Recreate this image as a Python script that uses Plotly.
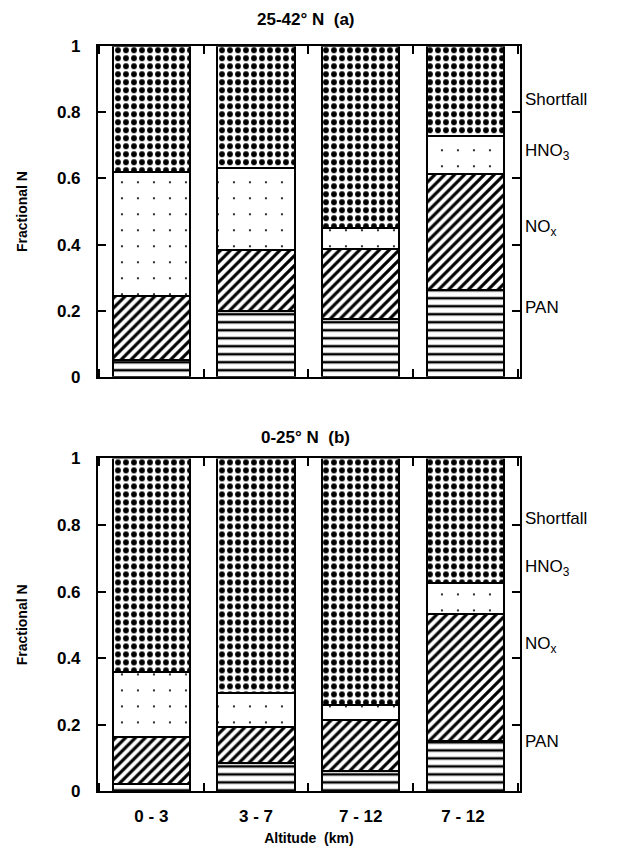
import plotly.graph_objects as go

altitudes = ["0 - 3", "3 - 7", "7 - 12", "7 - 12 "]
species = ["PAN", "NO<sub>x</sub>", "HNO<sub>3</sub>", "Shortfall"]

# panel (a) 25-42 N : fractional contributions (stacked)
a_pan = [0.05, 0.20, 0.174, 0.263]
a_nox = [0.195, 0.183, 0.212, 0.351]
a_hno3 = [0.375, 0.249, 0.065, 0.116]
a_short = [0.38, 0.368, 0.549, 0.27]

# panel (b) 0-25 N
b_pan = [0.023, 0.086, 0.061, 0.151]
b_nox = [0.14, 0.107, 0.152, 0.381]
b_hno3 = [0.195, 0.102, 0.045, 0.094]
b_short = [0.642, 0.705, 0.742, 0.374]

# right-side label positions (fraction of axis)
label_pos_a = [0.84, 0.68, 0.45, 0.21]
label_pos_b = [0.82, 0.67, 0.44, 0.15]
label_order = ["Shortfall", "HNO<sub>3</sub>", "NO<sub>x</sub>", "PAN"]

FONT = "Liberation Sans"

patterns = [
    dict(shape="-", fgcolor="black", bgcolor="white", size=8, solidity=0.32, fgopacity=1),
    dict(shape="/", fgcolor="black", bgcolor="white", size=7, solidity=0.45, fgopacity=1),
    dict(shape=".", fgcolor="black", bgcolor="white", size=16, solidity=0.015, fgopacity=1),
    dict(shape=".", fgcolor="black", bgcolor="white", size=8, solidity=0.42, fgopacity=1),
]

fig = go.Figure()
for panel, series in (("a", [a_pan, a_nox, a_hno3, a_short]), ("b", [b_pan, b_nox, b_hno3, b_short])):
    xa = "x" if panel == "a" else "x2"
    ya = "y" if panel == "a" else "y2"
    for name, vals, pat in zip(species, series, patterns):
        fig.add_trace(go.Bar(
            x=altitudes, y=vals, name=name, xaxis=xa, yaxis=ya,
            marker=dict(color="white", pattern=pat, line=dict(color="black", width=2)),
            showlegend=False,
        ))

xcommon = dict(
    type="category", range=[-0.51, 3.52], tickson="boundaries", ticks="inside",
    ticklen=8, tickwidth=2, tickcolor="black", showline=True, linecolor="black",
    linewidth=2, mirror="ticks", showgrid=False, zeroline=False,
)
ycommon = dict(
    range=[0, 1], tickvals=[0, 0.2, 0.4, 0.6, 0.8, 1], ticktext=["0", "0.2", "0.4", "0.6", "0.8", "1"],
    ticks="inside", ticklen=8, tickwidth=2, tickcolor="black",
    showline=True, linecolor="black", linewidth=2, mirror="ticks",
    showgrid=False, zeroline=False, ticklabelstandoff=12,
    tickfont=dict(family=FONT, size=17, color="black", weight="bold"),
    title=dict(text="Fractional N", font=dict(family=FONT, size=14, color="black", weight="bold"), standoff=26),
)

fig.update_layout(
    width=624, height=854,
    margin=dict(l=0, r=0, t=0, b=0),
    paper_bgcolor="white", plot_bgcolor="white",
    barmode="stack", bargap=0.26,
    xaxis=dict(xcommon, domain=[0.157, 0.833], anchor="y", showticklabels=False),
    yaxis=dict(ycommon, domain=[0.5595, 0.9554], anchor="x"),
    xaxis2=dict(xcommon, domain=[0.157, 0.833], anchor="y2", showticklabels=True,
                ticklabelstandoff=8,
                tickfont=dict(family=FONT, size=17, color="black", weight="bold"),
                title=dict(text="Altitude  (km)", font=dict(family=FONT, size=14, color="black", weight="bold"), standoff=8)),
    yaxis2=dict(ycommon, domain=[0.0631, 0.4618], anchor="x2"),
)

anns = [
    dict(text="25-42° N  (a)", xref="paper", yref="paper", x=0.49, y=0.9877, yanchor="middle"),
    dict(text="0-25° N  (b)", xref="paper", yref="paper", x=0.49, y=0.4865, yanchor="middle"),
]
for a in anns:
    a.update(showarrow=False, font=dict(family=FONT, size=17, color="black", weight="bold"))
    fig.add_annotation(**a)

for yref, pos in (("y domain", label_pos_a), ("y2 domain", label_pos_b)):
    for name, p in zip(label_order, pos):
        fig.add_annotation(text=name, xref="paper", yref=yref, x=0.838, y=p,
                           xanchor="left", yanchor="middle", showarrow=False,
                           font=dict(family=FONT, size=17, color="black"))

fig.write_html("out.html", config={"displayModeBar": False},
               post_script="document.body.style.margin='0';document.body.style.padding='0';")
